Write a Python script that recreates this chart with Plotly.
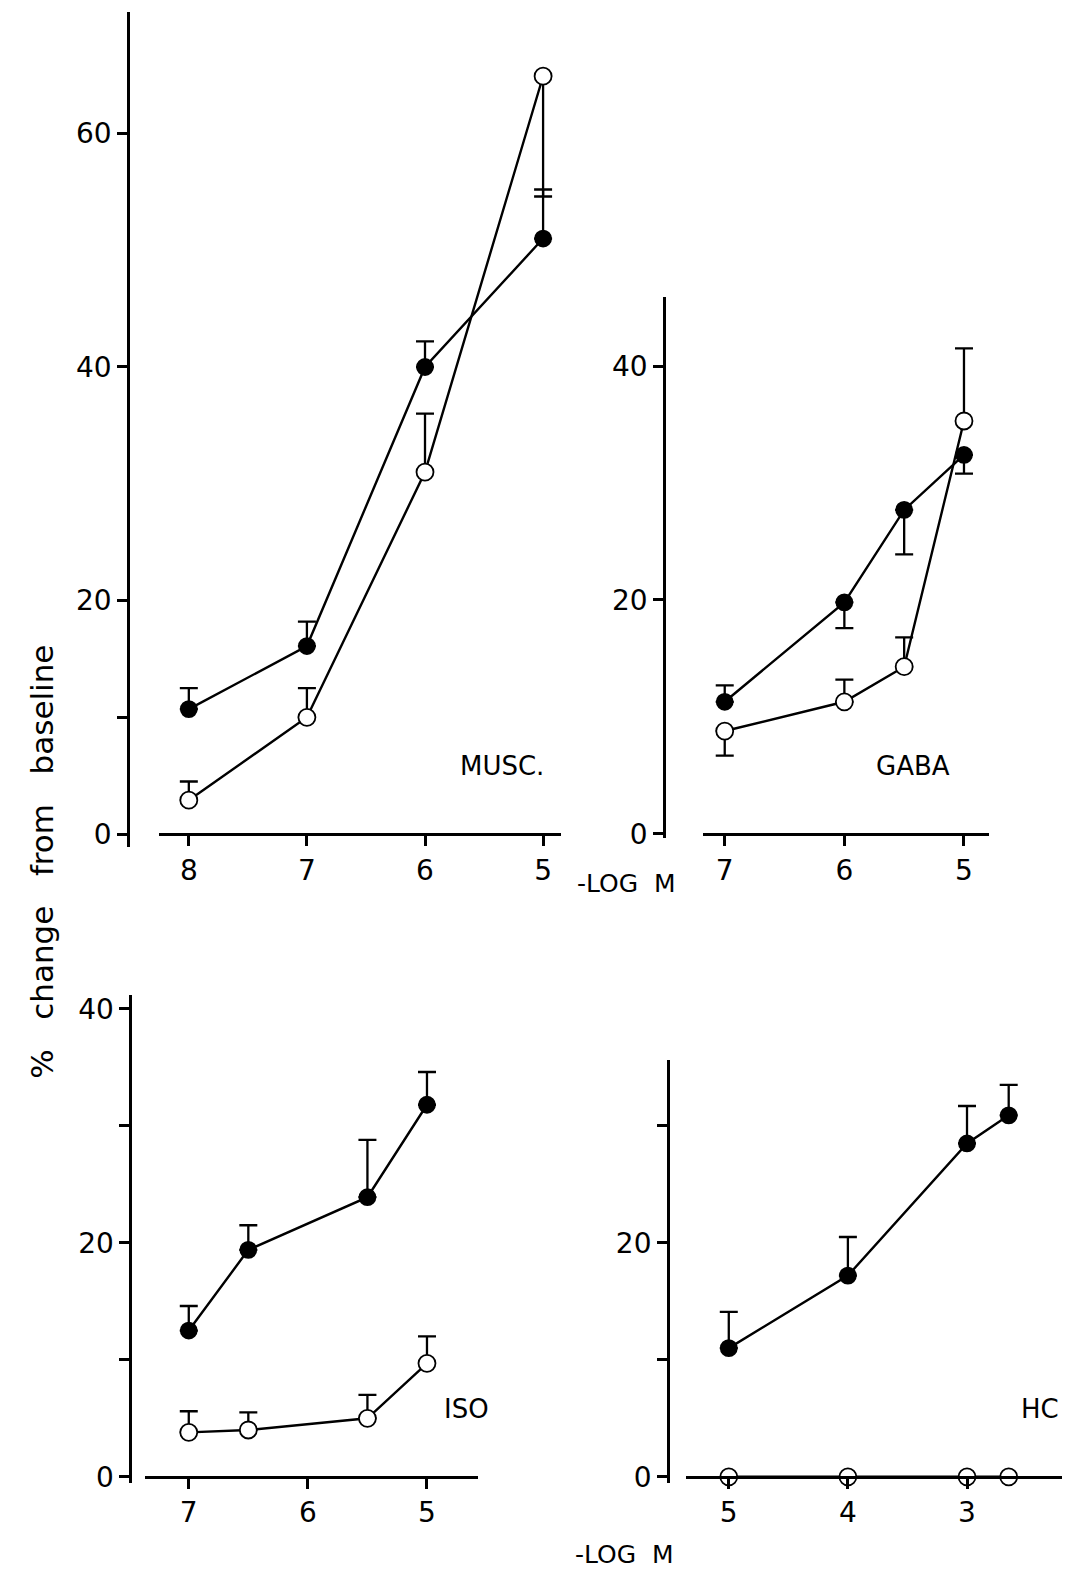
import plotly.graph_objects as go

W, H = 1073, 1583

def fx(px):
    return px / W

def fy(py):
    return 1 - py / H

# ---------------- data ----------------
musc_x = [8, 7, 6, 5]
musc_filled = [10.7, 16.1, 40.0, 51.0]
musc_filled_err_up = [1.8, 2.1, 2.2, 4.2]
musc_open = [2.9, 10.0, 31.0, 64.9]
musc_open_err_up = [1.6, 2.5, 5.0, 0]
musc_open_err_down = [0, 0, 0, 10.3]

gaba_x = [7, 6, 5.5, 5]
gaba_filled = [11.3, 19.8, 27.7, 32.4]
gaba_filled_err_up = [1.4, 0, 0, 0]
gaba_filled_err_down = [0, 2.2, 3.8, 1.6]
gaba_open = [8.8, 11.3, 14.3, 35.3]
gaba_open_err_up = [0, 1.9, 2.5, 6.2]
gaba_open_err_down = [2.1, 0, 0, 0]

iso_x = [7, 6.5, 5.5, 5]
iso_filled = [12.5, 19.4, 23.9, 31.8]
iso_filled_err_up = [2.1, 2.1, 4.9, 2.8]
iso_open = [3.8, 4.0, 5.0, 9.7]
iso_open_err_up = [1.8, 1.5, 2.0, 2.3]

hc_x = [5, 4, 3, 2.65]
hc_filled = [11.0, 17.2, 28.5, 30.9]
hc_filled_err_up = [3.1, 3.3, 3.2, 2.6]
hc_open = [0, 0, 0, 0]
hc_open_err_down = [0.6, 0.6, 0.6, 0]

panel_labels = ["MUSC.", "GABA", "ISO", "HC"]
x_title = "-LOG\u00a0\u00a0M"
y_title = "%\u00a0\u00a0 change\u00a0\u00a0 from\u00a0\u00a0 baseline"

FONT = "DejaVu Sans"
LW = 2.4
AXW = 3

fig = go.Figure()

def add_series(x, y, up, down, filled, xa, ya, capw=9):
    fig.add_trace(go.Scatter(
        x=x, y=y, xaxis=xa, yaxis=ya, mode="lines+markers",
        line=dict(color="black", width=LW),
        marker=dict(size=16 if filled else 17, color="black" if filled else "white",
                    line=dict(color="black", width=1.8)),
        error_y=dict(type="data", symmetric=False, array=up, arrayminus=down,
                     color="black", thickness=2.3, width=capw),
        cliponaxis=False, showlegend=False, hoverinfo="x+y"))

zeros4 = [0, 0, 0, 0]
# MUSC
add_series(musc_x, musc_filled, musc_filled_err_up, zeros4, True, "x", "y")
add_series(musc_x, musc_open, musc_open_err_up, musc_open_err_down, False, "x", "y")
# GABA
add_series(gaba_x, gaba_filled, gaba_filled_err_up, gaba_filled_err_down, True, "x2", "y2")
add_series(gaba_x, gaba_open, gaba_open_err_up, gaba_open_err_down, False, "x2", "y2")
# ISO
add_series(iso_x, iso_filled, iso_filled_err_up, zeros4, True, "x3", "y3")
add_series(iso_x, iso_open, iso_open_err_up, zeros4, False, "x3", "y3")
# HC
add_series(hc_x, hc_filled, hc_filled_err_up, zeros4, True, "x4", "y4")
add_series(hc_x, hc_open, zeros4, hc_open_err_down, False, "x4", "y4", capw=2)

tickfont = dict(family=FONT, size=28, color="black")

def xaxis(dom_px, rng, pos_py, tickvals):
    return dict(domain=[fx(dom_px[0]), fx(dom_px[1])], range=rng, anchor="free",
                position=fy(pos_py), showline=True, linecolor="black", linewidth=AXW,
                ticks="outside", ticklen=10, tickwidth=2.6, tickcolor="black",
                tickvals=tickvals, ticktext=[str(v) for v in tickvals],
                tickfont=tickfont, showgrid=False, zeroline=False, layer="above traces")

def yaxis(dom_py, rng, pos_px, tickvals, ticktext):
    return dict(domain=[fy(dom_py[1]), fy(dom_py[0])], range=rng, anchor="free",
                position=fx(pos_px), showline=True, linecolor="black", linewidth=AXW,
                ticks="outside", ticklen=10, tickwidth=2.6, tickcolor="black",
                tickvals=tickvals, ticktext=ticktext,
                tickfont=tickfont, showgrid=False, zeroline=False)

fig.update_layout(
    width=W, height=H, margin=dict(l=0, r=0, t=0, b=0),
    paper_bgcolor="white", plot_bgcolor="rgba(0,0,0,0)",
    font=dict(family=FONT, color="black"),
    # MUSC
    xaxis=xaxis([159.3, 560.8], [8.25, 4.85], 840, [8, 7, 6, 5]),
    yaxis=yaxis([10.1, 853], [-1.1, 70.4], 128.2, [0, 10, 20, 40, 60], ["0", "", "20", "40", "60"]),
    # GABA
    xaxis2=xaxis([703.2, 989.1], [7.18, 4.79], 840, [7, 6, 5]),
    yaxis2=yaxis([297.8, 843.5], [-0.3, 45.9], 664.2, [0, 20, 40], ["0", "20", "40"]),
    # ISO
    xaxis3=xaxis([144.7, 478.2], [7.37, 4.57], 1488.9, [7, 6, 5]),
    yaxis3=yaxis([1002.3, 1494.8], [-0.5, 41.2], 130.4, [0, 10, 20, 30, 40], ["0", "", "20", "", "40"]),
    # HC
    xaxis4=xaxis([685.9, 1062.3], [5.36, 2.2], 1488.9, [5, 4, 3]),
    yaxis4=yaxis([1068.5, 1494.8], [-0.5, 35.6], 668.1, [0, 10, 20, 30], ["0", "", "20", ""]),
)

lab_font = dict(family=FONT, size=26, color="black")
ann = []
for txt, (px, py) in zip(panel_labels, [(502, 771), (913, 771), (466, 1420), (1040, 1420)]):
    ann.append(dict(text=txt, x=fx(px), y=fy(py), xref="paper", yref="paper",
                    showarrow=False, font=lab_font, xanchor="center", yanchor="middle"))
for (px, py) in [(626, 890), (624, 1567)]:
    ann.append(dict(text=x_title, x=fx(px), y=fy(py), xref="paper", yref="paper",
                    showarrow=False, font=dict(family=FONT, size=25, color="black"),
                    xanchor="center", yanchor="middle"))
ann.append(dict(text=y_title, x=fx(42), y=fy(868), xref="paper", yref="paper",
                showarrow=False, textangle=-90, font=dict(family=FONT, size=31, color="black"),
                xanchor="center", yanchor="middle"))
fig.update_layout(annotations=ann)

fig.write_html("out.html")
